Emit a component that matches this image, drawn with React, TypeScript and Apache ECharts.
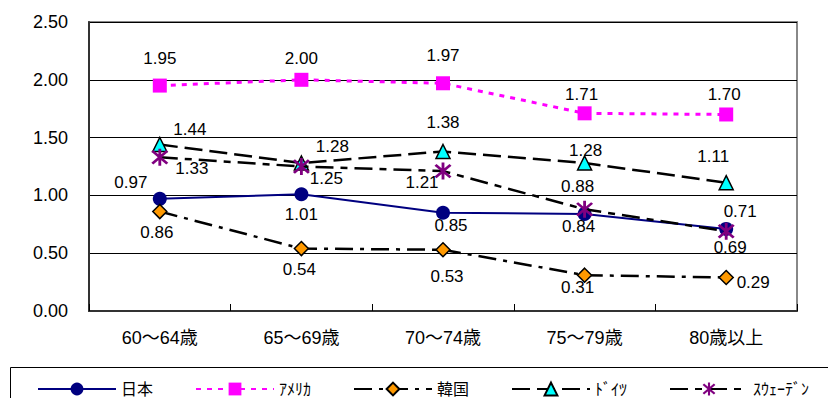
import React, { useEffect, useRef } from "react";
import * as echarts from "echarts";

// Age groups on the category axis
const categories = ["60～64歳", "65～69歳", "70～74歳", "75～79歳", "80歳以上"];

// Series values per country
const japan = [0.97, 1.01, 0.85, 0.84, 0.71];
const america = [1.95, 2.0, 1.97, 1.71, 1.7];
const korea = [0.86, 0.54, 0.53, 0.31, 0.29];
const germany = [1.44, 1.28, 1.38, 1.28, 1.11];
const sweden = [1.33, 1.25, 1.21, 0.88, 0.69];

const seriesNames = ["日本", "ｱﾒﾘｶ", "韓国", "ﾄﾞｲﾂ", "ｽｳｪｰﾃﾞﾝ"];

// Y axis range
const yMin = 0;
const yMax = 2.5;
const yStep = 0.5;

// Per-point label placement (pixel offsets from the marker centre)
const labelShift: Record<string, number[][]> = {
  japan: [[-29, -16], [0, 20], [8, 13], [-6, 13], [14, -17]],
  america: [[0, -27], [0, -21], [0, -28], [-3, -19], [-2, -20]],
  korea: [[-3, 21], [-2, 21], [4, 27], [-7, 12], [27, 5]],
  germany: [[30, -15], [31, -17], [0, -29], [1, -13], [-13, -26]],
  sweden: [[32, 11], [25, 12], [-21, 11], [-7, -23], [4, 16]],
};

const FONT = '"Liberation Sans", "Noto Sans CJK JP", sans-serif';

// Six-armed asterisk: one vertical bar and two diagonals
const asterisk =
  "path://M8.6,0 L11.4,0 L11.4,20 L8.6,20 Z M1.6,3.6 L3.6,1.6 L18.4,16.4 L16.4,18.4 Z M16.4,1.6 L18.4,3.6 L3.6,18.4 L1.6,16.4 Z";

function withLabels(values: number[], key: string) {
  return values.map((v, i) => ({
    value: v,
    label: { offset: labelShift[key][i] },
  }));
}

const baseLabel = {
  show: true,
  position: "inside",
  fontSize: 17,
  color: "#000",
  fontFamily: FONT,
  formatter: (p: any) => Number(p.value).toFixed(2),
};

export default function App() {
  const ref = useRef<HTMLDivElement>(null);

  useEffect(() => {
    if (!ref.current) return;
    const chart = echarts.init(ref.current, undefined, { renderer: "svg" });
    chart.setOption({
      animation: false,
      backgroundColor: "#fff",
      textStyle: { fontFamily: FONT },
      grid: {
        left: 89,
        right: 31,
        top: 22,
        bottom: 87,
        show: true,
        borderColor: "#888",
        borderWidth: 2,
      },
      xAxis: {
        type: "category",
        data: categories,
        boundaryGap: true,
        axisLine: { lineStyle: { color: "#333", width: 2 } },
        axisTick: { show: true, inside: true, length: 7, lineStyle: { color: "#000", width: 1 } },
        axisLabel: { color: "#000", fontSize: 18, margin: 18, fontFamily: FONT },
        splitLine: { show: false },
      },
      yAxis: {
        type: "value",
        min: yMin,
        max: yMax,
        interval: yStep,
        axisLine: { show: true, lineStyle: { color: "#333", width: 2 } },
        axisTick: { show: false },
        axisLabel: {
          color: "#000",
          fontSize: 18,
          margin: 21,
          fontFamily: FONT,
          formatter: (v: number) => v.toFixed(2),
        },
        splitLine: { show: true, lineStyle: { color: "#000", width: 1 } },
      },
      legend: {
        left: 32,
        top: 376,
        itemWidth: 78,
        itemHeight: 16,
        itemGap: 42,
        textStyle: { fontSize: 16, color: "#000", fontFamily: FONT },
        data: seriesNames,
      },
      graphic: [
        {
          type: "rect",
          shape: { x: 10.5, y: 367.5, width: 830, height: 40 },
          style: { fill: "none", stroke: "#000", lineWidth: 1 },
          silent: true,
        },
      ],
      series: [
        {
          name: seriesNames[0],
          type: "line",
          data: withLabels(japan, "japan"),
          symbol: "circle",
          symbolSize: 14,
          itemStyle: { color: "#000080" },
          lineStyle: { color: "#000080", width: 2 },
          label: baseLabel,
          z: 2,
        },
        {
          name: seriesNames[1],
          type: "line",
          data: withLabels(america, "america"),
          symbol: "rect",
          symbolSize: 14,
          itemStyle: { color: "#ff00ff" },
          lineStyle: { color: "#ff00ff", width: 3, type: [5, 6] },
          label: baseLabel,
          z: 3,
        },
        {
          name: seriesNames[2],
          type: "line",
          data: withLabels(korea, "korea"),
          symbol: "diamond",
          symbolSize: 14,
          itemStyle: { color: "#ff9900", borderColor: "#000", borderWidth: 1.5 },
          lineStyle: { color: "#000", width: 2.5, type: [18, 7, 4, 7] },
          label: baseLabel,
          z: 4,
        },
        {
          name: seriesNames[3],
          type: "line",
          data: withLabels(germany, "germany"),
          symbol: "triangle",
          symbolSize: 14,
          itemStyle: { color: "#00ffff", borderColor: "#000", borderWidth: 1.5 },
          lineStyle: { color: "#000", width: 2.5, type: [18, 7] },
          label: baseLabel,
          z: 5,
        },
        {
          name: seriesNames[4],
          type: "line",
          data: withLabels(sweden, "sweden"),
          symbol: asterisk,
          symbolSize: 17,
          itemStyle: { color: "#800080" },
          lineStyle: { color: "#000", width: 2.5, type: [18, 7, 7, 7] },
          label: baseLabel,
          z: 6,
        },
      ],
    });
    return () => chart.dispose();
  }, []);

  return (
    <div
      ref={ref}
      style={{ position: "fixed", left: 0, top: 0, width: 828, height: 398 }}
    />
  );
}
